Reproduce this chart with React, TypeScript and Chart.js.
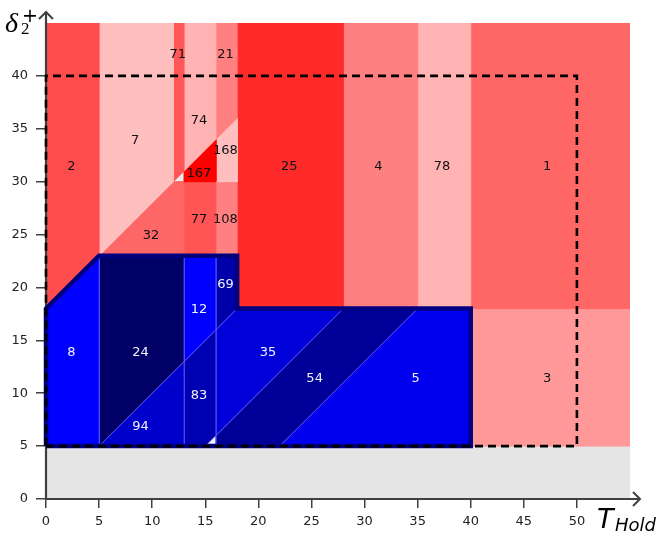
import React, { useEffect, useRef } from 'react';
import { Chart, registerables } from 'chart.js';

Chart.register(...registerables);

// ---- axis ticks ----
const xTicks = [0, 5, 10, 15, 20, 25, 30, 35, 40, 45, 50];
const yTicks = [0, 5, 10, 15, 20, 25, 30, 35, 40];
const xMax = 55;
const yMax = 45;

// ---- red (upper) regions: id, polygon in data coords, colour ----
const redIds = ['2', '7', '71', '74', '21', '167', '168', '32', '77', '108', '25', '4', '78', '1', '3'];
const redPolys: number[][][] = [
  [[0, 18], [5, 23], [5, 45], [0, 45]],
  [[5, 23], [12, 30], [12, 45], [5, 45]],
  [[12, 30], [13, 31], [13, 45], [12, 45]],
  [[13, 31], [16, 34], [16, 45], [13, 45]],
  [[16, 34], [18, 36], [18, 45], [16, 45]],
  [[13, 30], [13, 31], [16, 34], [16, 30]],
  [[16, 30], [16, 34], [18, 36], [18, 30]],
  [[5, 23], [13, 23], [13, 30], [12, 30]],
  [[13, 23], [16, 23], [16, 30], [13, 30]],
  [[16, 23], [18, 23], [18, 30], [16, 30]],
  [[18, 18], [28, 18], [28, 45], [18, 45]],
  [[28, 18], [35, 18], [35, 45], [28, 45]],
  [[35, 18], [40, 18], [40, 45], [35, 45]],
  [[40, 18], [55, 18], [55, 45], [40, 45]],
  [[40, 5], [55, 5], [55, 18], [40, 18]],
];
const redColors = ['#ff4d4d', '#ffbfbf', '#ff5757', '#ffb3b3', '#ff8080', '#ff0000', '#ffbfbf', '#ff6666', '#ff5555', '#ff8080', '#ff2a2a', '#ff8080', '#ffb3b3', '#ff6666', '#ff9999'];

// ---- blue (lower) regions ----
const blueIds = ['8', '24', '94', '12', '83', '69', '35', '54', '5'];
const bluePolys: number[][][] = [
  [[0, 5], [5, 5], [5, 23], [0, 18]],
  [[5, 5], [13, 13], [13, 23], [5, 23]],
  [[5, 5], [13, 5], [13, 13]],
  [[13, 13], [16, 16], [16, 23], [13, 23]],
  [[13, 5], [15, 5], [16, 6], [16, 16], [13, 13]],
  [[16, 16], [18, 18], [18, 23], [16, 23]],
  [[16, 6], [28, 18], [18, 18], [16, 16]],
  [[16, 5], [22, 5], [35, 18], [28, 18], [16, 6]],
  [[22, 5], [40, 5], [40, 18], [35, 18]],
];
const blueColors = ['#0000ff', '#000066', '#0000cc', '#0000ff', '#0000b3', '#0000aa', '#0000d9', '#000099', '#0000ee'];

// ---- empty / uncovered areas ----
const emptyPolys: number[][][] = [
  [[0, 0], [55, 0], [55, 5], [0, 5]],
  [[12, 30], [13, 31], [13, 30]],
  [[15, 5], [16, 5], [16, 6]],
];
const emptyColors = ['#e5e5e5', '#e8e8e8', '#f2f2f2'];

// ---- outlines ----
const blueOutline = [[0, 5], [0, 18], [5, 23], [18, 23], [18, 18], [40, 18], [40, 5], [0, 5]];
const dashedBox = [[0, 5], [50, 5], [50, 40], [0, 40], [0, 5]];

// ---- region labels (data coords) ----
const labelText = ['2', '7', '71', '21', '74', '168', '167', '25', '4', '78', '1', '77', '108', '32', '69', '12', '8', '24', '35', '54', '5', '3', '83', '94'];
const labelX = [2.4, 8.4, 12.4, 16.9, 14.4, 16.9, 14.4, 22.9, 31.3, 37.3, 47.2, 14.4, 16.9, 9.9, 16.9, 14.4, 2.4, 8.9, 20.9, 25.3, 34.8, 47.2, 14.4, 8.9];
const labelY = [31.4, 33.9, 42.0, 42.0, 35.8, 32.9, 30.8, 31.4, 31.4, 31.4, 31.4, 26.4, 26.4, 24.9, 20.3, 17.9, 13.8, 13.8, 13.8, 11.35, 11.35, 11.35, 9.8, 6.8];
const labelOnBlue = [0, 0, 0, 0, 0, 0, 0, 0, 0, 0, 0, 0, 0, 0, 1, 1, 1, 1, 1, 1, 1, 0, 1, 1];

const toPts = (poly: number[][]) => {
  const pts = poly.map(([x, y]) => ({ x, y }));
  pts.push({ x: poly[0][0], y: poly[0][1] });
  return pts;
};

const regionDataset = (poly: number[][], color: string, border: string, bw: number) => ({
  data: toPts(poly),
  showLine: true,
  fill: 'shape',
  backgroundColor: color,
  borderColor: border,
  borderWidth: bw,
  pointRadius: 0,
  pointHoverRadius: 0,
  tension: 0,
});

const AXIS_COLOR = '#404040';

const decorPlugin = {
  id: 'decor',
  afterDatasetDraw(chart: any, args: any) {
    // draw axes right after the last region is drawn (index 2 is drawn last among regions)
    if (args.index !== 2) return;
    const { ctx, chartArea } = chart;
    const x0 = chart.scales.x.getPixelForValue(0);
    const y0 = chart.scales.y.getPixelForValue(0);
    ctx.save();
    ctx.strokeStyle = AXIS_COLOR;
    ctx.lineWidth = 2.2;
    ctx.lineCap = 'butt';
    ctx.beginPath();
    ctx.moveTo(x0, y0);
    ctx.lineTo(chartArea.right + 10, y0);
    ctx.moveTo(x0, y0);
    ctx.lineTo(x0, chartArea.top - 11);
    ctx.stroke();
    // arrow heads
    const tx = chartArea.right + 10;
    const ty = chartArea.top - 11;
    ctx.lineWidth = 2;
    ctx.beginPath();
    ctx.moveTo(tx - 7, y0 - 7);
    ctx.lineTo(tx, y0);
    ctx.lineTo(tx - 7, y0 + 7);
    ctx.moveTo(x0 - 7, ty + 7);
    ctx.lineTo(x0, ty);
    ctx.lineTo(x0 + 7, ty + 7);
    ctx.stroke();
    ctx.restore();
  },
  afterDatasetsDraw(chart: any) {
    const { ctx } = chart;
    const sx = chart.scales.x;
    const sy = chart.scales.y;
    ctx.save();
    ctx.font = '13px "DejaVu Sans"';
    ctx.textAlign = 'center';
    ctx.textBaseline = 'middle';
    labelText.forEach((t, i) => {
      ctx.fillStyle = labelOnBlue[i] ? '#f2f2ff' : '#111111';
      ctx.fillText(t, sx.getPixelForValue(labelX[i]), sy.getPixelForValue(labelY[i]));
    });
    // axis titles
    ctx.fillStyle = '#000';
    ctx.textAlign = 'left';
    ctx.textBaseline = 'alphabetic';
    ctx.font = 'italic 27px "DejaVu Sans"';
    ctx.fillText('T', 597, 528);
    ctx.font = 'italic 18px "DejaVu Sans"';
    ctx.fillText('Hold', 615, 531);
    ctx.font = 'italic 28px "Liberation Serif"';
    ctx.fillText('δ', 5, 32);
    ctx.font = '17px "Liberation Serif"';
    ctx.fillText('2', 21, 34);
    ctx.font = '19px "DejaVu Sans"';
    ctx.fillText('+', 22, 22);
    ctx.restore();
  },
};

export default function App() {
  const ref = useRef<HTMLCanvasElement>(null);
  useEffect(() => {
    const datasets: any[] = [];
    datasets.push({
      data: toPts(dashedBox.slice(0, 4)),
      showLine: true,
      fill: false,
      borderColor: '#000000',
      borderWidth: 2.6,
      borderDash: [8, 5],
      pointRadius: 0,
      tension: 0,
      clip: false,
    });
    datasets.push({
      data: toPts(blueOutline.slice(0, 7)),
      showLine: true,
      fill: false,
      borderColor: '#00007f',
      borderWidth: 4.5,
      borderJoinStyle: 'miter',
      pointRadius: 0,
      tension: 0,
      clip: false,
    });
    bluePolys.forEach((p, i) => datasets.push(regionDataset(p, blueColors[i], 'rgba(90,90,255,0.85)', 0.8)));
    redPolys.forEach((p, i) => datasets.push(regionDataset(p, redColors[i], redColors[i], 1)));
    emptyPolys.forEach((p, i) => datasets.push(regionDataset(p, emptyColors[i], emptyColors[i], 0.5)));

    const chart = new Chart(ref.current as HTMLCanvasElement, {
      type: 'scatter',
      data: { datasets },
      options: {
        animation: false,
        responsive: false,
        events: [],
        layout: { padding: { left: 0, right: 32, top: 23, bottom: 0 } },
        plugins: { legend: { display: false }, tooltip: { enabled: false } },
        scales: {
          x: {
            type: 'linear',
            min: 0,
            max: xMax,
            afterBuildTicks: (s: any) => { s.ticks = xTicks.map((v) => ({ value: v })); },
            afterFit: (s: any) => { s.height = 37; },
            border: { display: false },
            grid: { display: true, drawOnChartArea: false, drawTicks: true, tickLength: 9, color: AXIS_COLOR, lineWidth: 1.5 },
            ticks: { color: '#222', font: { family: 'DejaVu Sans', size: 13 }, padding: 6, maxRotation: 0, autoSkip: false },
          },
          y: {
            type: 'linear',
            min: 0,
            max: yMax,
            afterBuildTicks: (s: any) => { s.ticks = yTicks.map((v) => ({ value: v })); },
            afterFit: (s: any) => { s.width = 46; },
            border: { display: false },
            grid: { display: true, drawOnChartArea: false, drawTicks: true, tickLength: 10, color: AXIS_COLOR, lineWidth: 1.5 },
            ticks: { color: '#222', font: { family: 'DejaVu Sans', size: 13 }, padding: 8, autoSkip: false },
          },
        },
      } as any,
      plugins: [decorPlugin],
    });
    return () => chart.destroy();
  }, []);
  return (
    <div style={{ position: 'fixed', left: 0, top: 0, width: 662, height: 536 }}>
      <canvas ref={ref} width={662} height={536} style={{ display: 'block' }} />
    </div>
  );
}
